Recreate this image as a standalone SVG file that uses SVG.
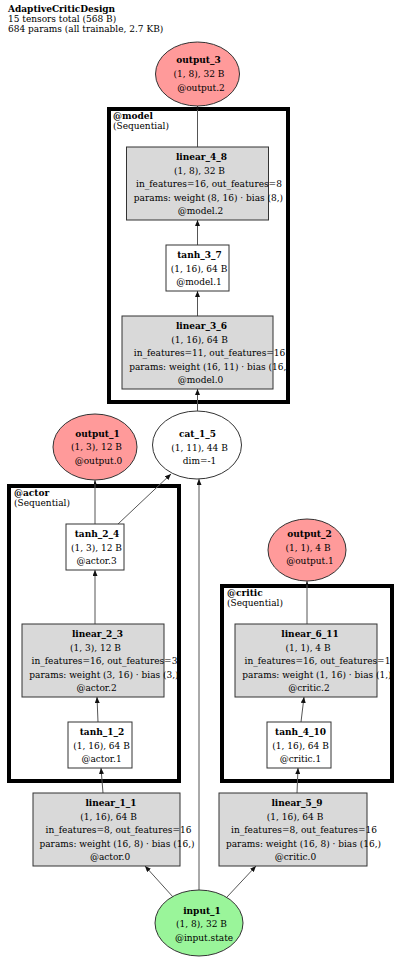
<svg xmlns="http://www.w3.org/2000/svg" width="400" height="960" viewBox="0 0 400 960">
<style>
text{font-family:"DejaVu Serif Condensed","DejaVu Serif","Liberation Serif",serif;font-stretch:condensed;font-size:10px;fill:#000}
.b{font-weight:bold}
.c{text-anchor:middle}
.lin{fill:#d9d9d9;stroke:#333;stroke-width:1}
.act{fill:#fff;stroke:#333;stroke-width:1}
.out{fill:#ff9a9a;stroke:#333;stroke-width:1}
.inp{fill:#9af59a;stroke:#333;stroke-width:1}
.cat{fill:#fff;stroke:#333;stroke-width:1}
.cl{fill:none;stroke:#000;stroke-width:4}
.e{stroke:#555;stroke-width:1;fill:none}
</style>
<defs>
<marker id="ah" markerUnits="userSpaceOnUse" markerWidth="6" markerHeight="5" refX="6" refY="2.5" orient="auto"><path d="M0,0 L6,2.5 L0,5 z" fill="#111"/></marker>
<marker id="as" markerUnits="userSpaceOnUse" markerWidth="4" markerHeight="3" refX="4" refY="1.5" orient="auto"><path d="M0,0 L4,1.5 L0,3 z" fill="#111"/></marker>
</defs>
<rect width="400" height="960" fill="#fff"/>
<g id="title">
<text x="8" y="12" class="b">AdaptiveCriticDesign</text>
<text x="8" y="22">15 tensors total (568 B)</text>
<text x="8" y="32">684 params (all trainable, 2.7 KB)</text>
</g>
<g id="cluster_model">
<rect class="cl" x="109" y="109" width="179" height="293"/>
<text x="113" y="119" class="b">@model</text>
<text x="113" y="128.5">(Sequential)</text>
</g>
<g id="cluster_actor">
<rect class="cl" x="9" y="486" width="170" height="295"/>
<text x="14" y="496" class="b">@actor</text>
<text x="14" y="505.5">(Sequential)</text>
</g>
<g id="cluster_critic">
<rect class="cl" x="222" y="586" width="170" height="195"/>
<text x="227" y="596" class="b">@critic</text>
<text x="227" y="605.5">(Sequential)</text>
</g>
<g id="edges">
<line class="e" x1="103" y1="793" x2="101" y2="768" marker-end="url(#ah)"/>
<line class="e" x1="98" y1="722" x2="97" y2="697" marker-end="url(#ah)"/>
<line class="e" x1="95" y1="624" x2="95" y2="570" marker-end="url(#ah)"/>
<line class="e" x1="95" y1="524" x2="95" y2="480" marker-end="url(#as)"/>
<line class="e" x1="118" y1="524" x2="171" y2="474" marker-end="url(#ah)"/>
<line class="e" x1="199" y1="890" x2="199" y2="479" marker-end="url(#ah)"/>
<line class="e" x1="173" y1="897" x2="145" y2="866" marker-end="url(#ah)"/>
<line class="e" x1="227" y1="897" x2="256" y2="866" marker-end="url(#ah)"/>
<line class="e" x1="197.5" y1="411" x2="197.5" y2="389" marker-end="url(#ah)"/>
<line class="e" x1="197.5" y1="316" x2="197.5" y2="291" marker-end="url(#ah)"/>
<line class="e" x1="197.5" y1="245" x2="197.5" y2="220" marker-end="url(#ah)"/>
<line class="e" x1="197.5" y1="147" x2="197.5" y2="106" marker-end="url(#as)"/>
<line class="e" x1="297" y1="793" x2="298" y2="768" marker-end="url(#ah)"/>
<line class="e" x1="301" y1="722" x2="304" y2="697" marker-end="url(#ah)"/>
<line class="e" x1="307" y1="624" x2="307" y2="581" marker-end="url(#as)"/>
</g>
<g id="output_3">
<ellipse class="out" cx="197.5" cy="74" rx="42" ry="32"/>
<text x="198.5" y="63" class="c b">output_3</text>
<text x="199" y="77" class="c">(1, 8), 32 B</text>
<text x="201" y="90.5" class="c">@output.2</text>
</g>
<g id="linear_4_8">
<rect class="lin" x="126.5" y="147" width="142" height="73"/>
<text x="201.5" y="160" class="c b">linear_4_8</text>
<text x="199.5" y="173.5" class="c">(1, 8), 32 B</text>
<text x="209" y="187" class="c">in_features=16, out_features=8</text>
<text x="208.5" y="200.5" class="c">params: weight (8, 16) · bias (8,)</text>
<text x="200.5" y="214" class="c">@model.2</text>
</g>
<g id="tanh_3_7">
<rect class="act" x="166" y="245" width="63" height="46"/>
<text x="199.5" y="258" class="c b">tanh_3_7</text>
<text x="199" y="271.5" class="c">(1, 16), 64 B</text>
<text x="199" y="285" class="c">@model.1</text>
</g>
<g id="linear_3_6">
<rect class="lin" x="122" y="316" width="151" height="73"/>
<text x="201.5" y="329" class="c b">linear_3_6</text>
<text x="199.5" y="342.5" class="c">(1, 16), 64 B</text>
<text x="209.5" y="356" class="c">in_features=11, out_features=16</text>
<text x="209.5" y="369.5" class="c">params: weight (16, 11) · bias (16,)</text>
<text x="200.5" y="383" class="c">@model.0</text>
</g>
<g id="cat_1_5">
<ellipse class="cat" cx="197" cy="445" rx="44.5" ry="34"/>
<text x="197.5" y="436.5" class="c b">cat_1_5</text>
<text x="199.5" y="450.5" class="c">(1, 11), 44 B</text>
<text x="199.5" y="464" class="c">dim=-1</text>
</g>
<g id="output_1">
<ellipse class="out" cx="95" cy="447" rx="42" ry="33"/>
<text x="97.5" y="436.5" class="c b">output_1</text>
<text x="96.5" y="450" class="c">(1, 3), 12 B</text>
<text x="98.5" y="463.5" class="c">@output.0</text>
</g>
<g id="tanh_2_4">
<rect class="act" x="66" y="524" width="58" height="46"/>
<text x="97" y="537" class="c b">tanh_2_4</text>
<text x="96.5" y="550.5" class="c">(1, 3), 12 B</text>
<text x="96.5" y="564" class="c">@actor.3</text>
</g>
<g id="linear_2_3">
<rect class="lin" x="22" y="624" width="142" height="73"/>
<text x="97.5" y="637" class="c b">linear_2_3</text>
<text x="95.5" y="650.5" class="c">(1, 3), 12 B</text>
<text x="104.5" y="664" class="c">in_features=16, out_features=3</text>
<text x="104" y="677.5" class="c">params: weight (3, 16) · bias (3,)</text>
<text x="96.5" y="691" class="c">@actor.2</text>
</g>
<g id="tanh_1_2">
<rect class="act" x="68" y="722" width="64" height="46"/>
<text x="102" y="735" class="c b">tanh_1_2</text>
<text x="101.5" y="748.5" class="c">(1, 16), 64 B</text>
<text x="101.5" y="762" class="c">@actor.1</text>
</g>
<g id="linear_1_1">
<rect class="lin" x="33" y="793" width="147" height="73"/>
<text x="111" y="806" class="c b">linear_1_1</text>
<text x="108.5" y="819.5" class="c">(1, 16), 64 B</text>
<text x="118.5" y="833" class="c">in_features=8, out_features=16</text>
<text x="117" y="846.5" class="c">params: weight (16, 8) · bias (16,)</text>
<text x="110" y="860" class="c">@actor.0</text>
</g>
<g id="output_2">
<ellipse class="out" cx="307" cy="550" rx="39" ry="31"/>
<text x="309.5" y="537" class="c b">output_2</text>
<text x="308" y="550.5" class="c">(1, 1), 4 B</text>
<text x="310" y="564" class="c">@output.1</text>
</g>
<g id="linear_6_11">
<rect class="lin" x="235" y="624" width="142" height="73"/>
<text x="310" y="637" class="c b">linear_6_11</text>
<text x="308" y="650.5" class="c">(1, 1), 4 B</text>
<text x="317.5" y="664" class="c">in_features=16, out_features=1</text>
<text x="317" y="677.5" class="c">params: weight (1, 16) · bias (1,)</text>
<text x="309" y="691" class="c">@critic.2</text>
</g>
<g id="tanh_4_10">
<rect class="act" x="267" y="722" width="64" height="46"/>
<text x="300.5" y="735" class="c b">tanh_4_10</text>
<text x="300.5" y="748.5" class="c">(1, 16), 64 B</text>
<text x="300.5" y="762" class="c">@critic.1</text>
</g>
<g id="linear_5_9">
<rect class="lin" x="219" y="793" width="148" height="73"/>
<text x="297" y="806" class="c b">linear_5_9</text>
<text x="295" y="819.5" class="c">(1, 16), 64 B</text>
<text x="304" y="833" class="c">in_features=8, out_features=16</text>
<text x="303.5" y="846.5" class="c">params: weight (16, 8) · bias (16,)</text>
<text x="295.5" y="860" class="c">@critic.0</text>
</g>
<g id="input_1">
<ellipse class="inp" cx="199" cy="923" rx="44" ry="33"/>
<text x="202" y="913.5" class="c b">input_1</text>
<text x="201.5" y="927" class="c">(1, 8), 32 B</text>
<text x="204" y="940.5" class="c">@input.state</text>
</g>
</svg>
